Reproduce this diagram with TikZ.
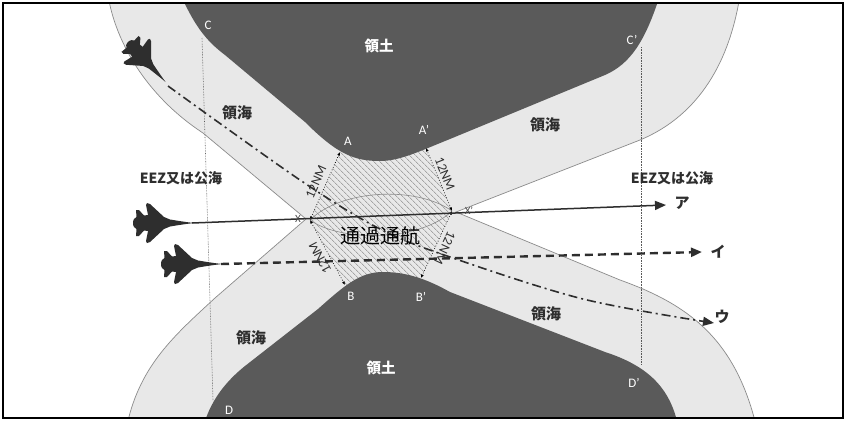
\documentclass[tikz,border=0pt]{standalone}
\usepackage{fontspec}
\setmainfont{Carlito}
\newfontfamily\jp{Noto Sans CJK JP}
\usetikzlibrary{arrows.meta,patterns.meta,calc}

\definecolor{landgray}{HTML}{5A5A5A}
\definecolor{seagray}{HTML}{E8E8E8}
\definecolor{edgegray}{HTML}{8A8A8A}
\definecolor{ink}{HTML}{2E2E2E}

\tikzset{
  land/.style={fill=landgray},
  wedge/.style={fill=white, draw=edgegray, line width=0.7pt},
  lens/.style={draw=edgegray, line width=0.6pt},
  ptlabel/.style={font=\fontsize{13}{13}\selectfont, text=white, inner sep=0pt},
  sealabel/.style={font=\jp\bfseries\fontsize{15}{15}\selectfont, text=ink, inner sep=0pt},
  landlabel/.style={font=\jp\bfseries\fontsize{14.5}{15}\selectfont, text=white, inner sep=0pt},
  zonelabel/.style={font=\jp\bfseries\fontsize{14}{14}\selectfont, text=ink, inner sep=0pt},
  courselabel/.style={font=\jp\bfseries\fontsize{15}{15}\selectfont, text=ink, inner sep=0pt},
  nmlabel/.style={font=\fontsize{13.5}{13.5}\selectfont, text=ink, inner sep=0pt},
  xlabel/.style={font=\fontsize{11}{11}\selectfont, text=ink!85, inner sep=0pt},
  baseline/.style={densely dotted, line width=0.6pt, draw=black!65},
  span/.style={dotted, line width=0.7pt, draw=black, {Latex[length=3.5pt,width=3pt]}-{Latex[length=3.5pt,width=3pt]}},
  bigtip/.style={-{Triangle[length=11pt,width=9pt]}},
  courseA/.style={bigtip, line width=1.5pt, draw=ink, fill=ink},
  courseB/.style={bigtip, line width=2.4pt, draw=ink, dash pattern=on 8pt off 5pt},
  courseC/.style={bigtip, line width=1.6pt, draw=ink, dash pattern=on 9pt off 4pt on 2pt off 4pt},
  jet/.pic={
    \fill[ink] (32,0) -- (24,-1) -- (16,-2.2) -- (8,-3.5) -- (2,-6) -- (-12,-19)
      -- (-15,-20) -- (-16,-18) -- (-14,-8) -- (-18,-7.5) -- (-23,-13) -- (-26,-13)
      -- (-25.5,-6) -- (-28,-4) -- (-29,-1.5) -- (-29,1.5) -- (-28,4) -- (-25.5,6)
      -- (-26,13) -- (-23,13) -- (-18,7.5) -- (-14,8) -- (-16,18) -- (-15,20)
      -- (-12,19) -- (2,6) -- (8,3.5) -- (16,2.2) -- (24,1) -- cycle;
  }
}

\begin{document}
\begin{tikzpicture}[x=1pt,y=-1pt]
\useasboundingbox (0,0) rectangle (846,421);

% strait corners of the transit passage zone
\coordinate (X)  at (310,220);
\coordinate (A)  at (340,152);
\coordinate (Ap) at (426,148);
\coordinate (Xp) at (452,211);
\coordinate (Bp) at (421,278);
\coordinate (B)  at (345,285);

\begin{scope}
  \clip (3,3) rectangle (843,418);
  % territorial sea background
  \fill[seagray] (0,0) rectangle (846,421);
  % open sea on both sides
  \path[wedge] (-10,-10) -- (108,-10) -- (108,-5)
    .. controls (115,40) and (145,95) .. (203,133) -- (306,219) -- (215,298)
    .. controls (175,335) and (140,365) .. (127,425) -- (127,430) -- (-10,430) -- cycle;
  \path[wedge] (856,-10) -- (740,-10) -- (740,-5)
    .. controls (730,60) and (700,115) .. (640,140) -- (456,212) -- (620,280)
    .. controls (690,305) and (735,340) .. (756,425) -- (756,430) -- (856,430) -- cycle;
  % hatched transit passage zone
  \fill[pattern={Lines[angle=-45,distance=4pt,line width=0.5pt]}, pattern color=black!50]
    (X) -- ($(X)!1.25!(A)$) -- ($(Xp)!1.25!(Ap)$) -- (Xp) -- ($(Xp)!1.25!(Bp)$) -- ($(X)!1.25!(B)$) -- cycle;
  % overlapping 12NM arcs
  \draw[lens] (X) .. controls (340,190) and (415,185) .. (Xp);
  \draw[lens] (X) .. controls (340,242) and (420,242) .. (Xp);
  % land masses
  \fill[land] (176,-5) -- (183,0) .. controls (195,25) and (205,40) .. (225,55)
    -- (305,122) .. controls (338,155) and (355,161) .. (380,161)
    .. controls (400,161) and (420,151) .. (450,139) -- (605,75)
    .. controls (630,64) and (645,42) .. (660,-5) -- cycle;
  \fill[land] (200,440) -- (205,421) .. controls (212,400) and (225,382) .. (245,366)
    -- (318,309) .. controls (345,285) and (360,272) .. (383,272)
    .. controls (405,272) and (425,278) .. (450,292) -- (605,352)
    .. controls (645,365) and (668,385) .. (677,421) -- (685,440) -- cycle;
\end{scope}

% baselines
\coordinate (Cb) at (202,38);
\coordinate (Db) at (213,400);
\coordinate (Cpb) at (641,47);
\coordinate (Dpb) at (641,365);
\draw[baseline] (Cb) -- (Db);
\draw[baseline] (Cpb) -- (Dpb);

% 12NM spans
\draw[span] (X) -- (A);
\draw[span] (Xp) -- (Ap);
\draw[span] (X) -- (B);
\draw[span] (Xp) -- (Bp);
\node[nmlabel, rotate=66]  (nm1) at (316,182) {12NM};
\node[nmlabel, rotate=-68] (nm2) at (445,174) {12NM};
\node[nmlabel, rotate=118] (nm3) at (320,258) {12NM};
\node[nmlabel, rotate=245] (nm4) at (445,248) {12NM};

% aircraft
\pic (jetC) [rotate=-47, scale=0.9] at (146,61) {jet};
\pic (jetA) at (162,223) {jet};
\pic (jetB) at (190,264) {jet};

% courses
\coordinate (noseA) at (192,223);
\coordinate (tipA)  at (666,205);
\coordinate (noseB) at (221,264);
\coordinate (tipB)  at (702,252);
\coordinate (noseC) at (168,86);
\coordinate (tipC)  at (714,323);
\draw[courseA] (noseA) -- (tipA);
\draw[courseB] (noseB) -- (tipB);
\draw[courseC] plot[smooth, tension=0.55] coordinates
  {(noseC) (300,180) (380,229) (450,257) (583,299) (tipC)};

\node[courselabel] (lA) at (682,203) {ア};
\node[courselabel] (lB) at (718,252) {イ};
\node[courselabel] (lC) at (722,317) {ウ};

% point labels
\node[xlabel] (lX)  at (298,219) {X};
\node[xlabel] (lXp) at (469,211) {X’};
\node[ptlabel] (lA1) at (348,141) {A};
\node[ptlabel] (lA2) at (424,130) {A’};
\node[ptlabel] (lB1) at (351,296) {B};
\node[ptlabel] (lB2) at (421,297) {B’};
\node[ptlabel] (lC1) at (208,25) {C};
\node[ptlabel] (lC2) at (632,40) {C’};
\node[ptlabel] (lD1) at (229,410) {D};
\node[ptlabel] (lD2) at (634,383) {D’};

% area labels
\node[landlabel] (land1) at (379,46) {領土};
\node[landlabel] (land2) at (381,368) {領土};
\node[sealabel] (sea1) at (237,113) {領海};
\node[sealabel] (sea2) at (545,125) {領海};
\node[sealabel] (sea3) at (546,314) {領海};
\node[sealabel] (sea4) at (251,338) {領海};
\node[zonelabel] (eez1) at (181,178) {EEZ又は公海};
\node[zonelabel] (eez2) at (672,178) {EEZ又は公海};
\node[font=\jp\fontsize{20}{20}\selectfont, text=black, inner sep=0pt] (transit) at (380,236) {通過通航};

% frame
\draw[line width=1.6pt] (3,3) rectangle (843,418);
\end{tikzpicture}
\end{document}
